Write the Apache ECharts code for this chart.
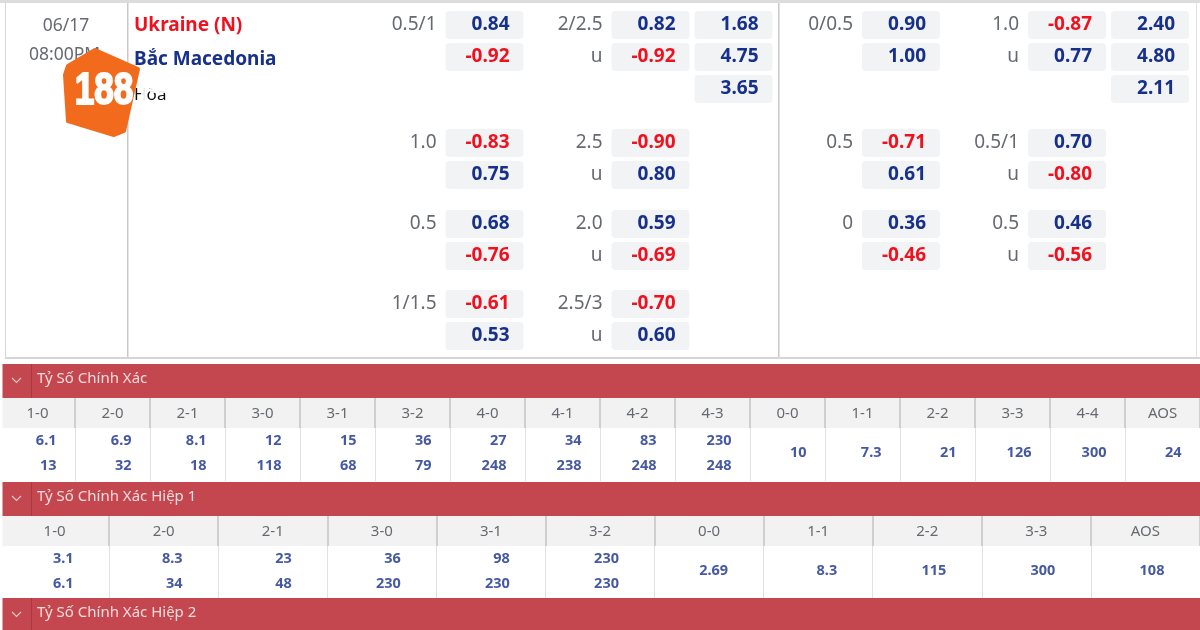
<!DOCTYPE html>
<html>
<head>
<meta charset="utf-8">
<style>html,body{margin:0;padding:0;background:#fff}#main{width:1200px;height:630px}</style>
<script src="https://cdn.jsdelivr.net/npm/echarts@6/dist/echarts.min.js"></script>
</head>
<body>
<div id="main"></div>
<script>
var matchDate = '06/17', matchTime = '08:00PM';
var homeTeam = 'Ukraine (N)', awayTeam = 'Bắc Macedonia', drawLabel = 'Hòa';

// full time odds, one entry per market block
var hdpLinesFT = ['0.5/1', '1.0', '0.5', '1/1.5'];
var hdpHomeFT = [0.84, -0.83, 0.68, -0.61];
var hdpAwayFT = [-0.92, 0.75, -0.76, 0.53];
var ouLinesFT = ['2/2.5', '2.5', '2.0', '2.5/3'];
var ouOverFT = [0.82, -0.90, 0.59, -0.70];
var ouUnderFT = [-0.92, 0.80, -0.69, 0.60];
var x12FT = [1.68, 4.75, 3.65];

// first half odds
var hdpLinesHT = ['0/0.5', '0.5', '0'];
var hdpHomeHT = [0.90, -0.71, 0.36];
var hdpAwayHT = [1.00, 0.61, -0.46];
var ouLinesHT = ['1.0', '0.5/1', '0.5'];
var ouOverHT = [-0.87, 0.70, 0.46];
var ouUnderHT = [0.77, -0.80, -0.56];
var x12HT = [2.40, 4.80, 2.11];

// correct score
var csTitle = 'Tỷ Số Chính Xác';
var csScores = ['1-0', '2-0', '2-1', '3-0', '3-1', '3-2', '4-0', '4-1', '4-2', '4-3', '0-0', '1-1', '2-2', '3-3', '4-4', 'AOS'];
var csHome = [6.1, 6.9, 8.1, 12, 15, 36, 27, 34, 83, 230];
var csAway = [13, 32, 18, 118, 68, 79, 248, 238, 248, 248];
var csLevel = [10, 7.3, 21, 126, 300, 24];

// correct score first half
var cs1Title = 'Tỷ Số Chính Xác Hiệp 1';
var cs1Scores = ['1-0', '2-0', '2-1', '3-0', '3-1', '3-2', '0-0', '1-1', '2-2', '3-3', 'AOS'];
var cs1Home = [3.1, 8.3, 23, 36, 98, 230];
var cs1Away = [6.1, 34, 48, 230, 230, 230];
var cs1Level = [2.69, 8.3, 115, 300, 108];

var cs2Title = 'Tỷ Số Chính Xác Hiệp 2';

var NAVY = '#16308c', RED = '#f0111f', GREY = '#666a70', BAND = '#c4474f';
var FONT = '"Noto Sans", sans-serif';
var oddsSlots = ['hdp', 'gap', 'ou', 'x12'];
var grids = [], xAxes = [], yAxes = [], series = [];

function addGrid(g, x, y) {
  grids.push(g);
  x.gridIndex = y.gridIndex = grids.length - 1;
  xAxes.push(x);
  yAxes.push(y);
  return grids.length - 1;
}

function renderChip(rows) {
  return function (params, api) {
    var row = rows[params.dataIndex];
    var c = api.coord([row[0], row[1]]);
    var s = api.size([1, 1]);
    var w = s[0] - 5, h = s[1] - 4, left = c[0] - w / 2;
    var kids = [
      { type: 'rect', shape: { x: left, y: c[1] - h / 2, width: w, height: h, r: 4 }, style: { fill: '#f2f3f5' } },
      { type: 'text', style: { x: left + w - 14, y: c[1], text: row[3], align: 'right', verticalAlign: 'middle',
        fill: row[2] < 0 ? RED : NAVY, font: 'bold 19px ' + FONT } }
    ];
    if (row[4]) {
      kids.push({ type: 'text', style: { x: left - 9, y: c[1], text: row[4], align: 'right', verticalAlign: 'middle',
        fill: GREY, font: '19px ' + FONT } });
    }
    return { type: 'group', children: kids };
  };
}

// one block of chips: 2 rows (hdp, o/u) plus optional third row for 1x2 prices
function addOddsBlock(left, top, i, hl, hh, ha, ol, oo, ou, x12) {
  var rowNames = x12 ? ['a', 'b', 'c'] : ['a', 'b'];
  var idx = addGrid(
    { left: left, top: top, width: 332, height: rowNames.length * 32, containLabel: false },
    { type: 'category', data: oddsSlots, show: false },
    { type: 'category', data: rowNames, inverse: true, show: false }
  );
  var rows = [
    ['hdp', 'a', hh[i], hh[i].toFixed(2), hl[i]],
    ['hdp', 'b', ha[i], ha[i].toFixed(2), ''],
    ['ou', 'a', oo[i], oo[i].toFixed(2), ol[i]],
    ['ou', 'b', ou[i], ou[i].toFixed(2), 'u']
  ];
  if (x12) {
    x12.forEach(function (v, k) { rows.push(['x12', rowNames[k], v, v.toFixed(2), '']); });
  }
  series.push({
    type: 'custom', xAxisIndex: idx, yAxisIndex: idx, silent: true, clip: false,
    renderItem: renderChip(rows),
    encode: { x: 0, y: 1 },
    data: rows.map(function (r) { return [r[0], r[1]]; })
  });
}

var blockTops = [9, 127, 208, 288];
hdpLinesFT.forEach(function (l, i) {
  addOddsBlock(443, blockTops[i], i, hdpLinesFT, hdpHomeFT, hdpAwayFT, ouLinesFT, ouOverFT, ouUnderFT, i === 0 ? x12FT : null);
});
hdpLinesHT.forEach(function (l, i) {
  addOddsBlock(859.5, blockTops[i], i, hdpLinesHT, hdpHomeHT, hdpAwayHT, ouLinesHT, ouOverHT, ouUnderHT, i === 0 ? x12HT : null);
});

function addScoreTable(top, scores, home, away, level, width) {
  // header strip, the score labels are the category axis
  addGrid(
    { left: 0, top: top, width: width, height: 30, show: true, backgroundColor: '#f2f2f2', borderWidth: 0 },
    { type: 'category', data: scores, position: 'bottom', axisTick: { show: false }, axisLine: { show: false },
      axisLabel: { inside: true, interval: 0, margin: 7, color: GREY, fontSize: 15, fontFamily: FONT },
      splitLine: { show: true, interval: 0, lineStyle: { color: '#cfcfcf', width: 2 } } },
    { type: 'value', min: 0, max: 1, show: false, splitLine: { show: false } }
  );
  var idx = addGrid(
    { left: 0, top: top + 30, width: width, height: 53 },
    { type: 'category', data: scores, axisTick: { show: false }, axisLine: { show: false }, axisLabel: { show: false },
      splitLine: { show: true, interval: 0, lineStyle: { color: '#e2e2e2', width: 1 } } },
    { type: 'value', min: 0, max: 2.1, inverse: true, show: false, splitLine: { show: false } }
  );
  var pts = [];
  home.forEach(function (v, i) { pts.push([scores[i], 0.5, v]); });
  away.forEach(function (v, i) { pts.push([scores[i], 1.5, v]); });
  level.forEach(function (v, i) { pts.push([scores[home.length + i], 1, v]); });
  series.push({
    type: 'scatter', xAxisIndex: idx, yAxisIndex: idx, silent: true, symbolSize: 1,
    itemStyle: { color: 'transparent' },
    encode: { x: 0, y: 1 },
    label: { show: true, position: 'inside', align: 'right', verticalAlign: 'middle', offset: [19, 0],
      color: NAVY, fontWeight: 'bold', fontSize: 14.5, fontFamily: FONT,
      formatter: function (p) { return String(p.value[2]); } },
    data: pts
  });
}
addScoreTable(398, csScores, csHome, csAway, csLevel, 1204);
addScoreTable(516, cs1Scores, cs1Home, cs1Away, cs1Level, 1204);

function banner(top, title) {
  return [
    { type: 'rect', shape: { x: 2.5, y: top, width: 1198, height: 34 }, style: { fill: BAND }, z: 5 },
    { type: 'rect', shape: { x: 31, y: top, width: 1, height: 34 }, style: { fill: '#a93840' }, z: 6 },
    { type: 'polyline', shape: { points: [[12, top + 14], [16.5, top + 18.5], [21, top + 14]] }, style: { stroke: '#f0c8ca', fill: null, lineWidth: 1.2 }, z: 6 },
    { type: 'text', style: { x: 37, y: top + 15, text: title, fill: '#f6dcdd', font: '15px ' + FONT, verticalAlign: 'middle' }, z: 6 }
  ];
}

function vline(x, y1, y2, col, w) {
  return { type: 'rect', shape: { x: x, y: y1, width: w, height: y2 - y1 }, style: { fill: col }, z: 1 };
}

var chrome = [
  { type: 'rect', shape: { x: 0, y: 0, width: 1200, height: 3 }, style: { fill: '#dcdcdc' }, z: 1 },
  vline(5, 3, 358, '#d5d5d5', 1),
  vline(127, 3, 358, '#c9c9c9', 1.5),
  vline(778, 3, 358, '#c9c9c9', 1.5),
  vline(1196, 3, 358, '#e2e2e2', 1),
  { type: 'rect', shape: { x: 5, y: 357, width: 1195, height: 2 }, style: { fill: '#d5d5d5' }, z: 1 },
  { type: 'rect', shape: { x: 0, y: 398, width: 2.5, height: 232 }, style: { fill: '#fff' }, z: 4 },
  { type: 'text', style: { x: 66, y: 26, text: matchDate, align: 'center', verticalAlign: 'middle', fill: GREY, font: '17.5px ' + FONT }, z: 3 },
  { type: 'text', style: { x: 29, y: 55, text: matchTime, verticalAlign: 'middle', fill: GREY, font: '17.5px ' + FONT }, z: 3 },
  { type: 'text', style: { x: 134, y: 26, text: homeTeam, verticalAlign: 'middle', fill: RED, font: 'bold 19px ' + FONT }, z: 3 },
  { type: 'text', style: { x: 134, y: 60, text: awayTeam, verticalAlign: 'middle', fill: NAVY, font: 'bold 19px ' + FONT }, z: 3 },
  { type: 'text', style: { x: 134, y: 95, text: drawLabel, verticalAlign: 'middle', fill: '#111', font: '17px ' + FONT }, z: 3 },
  // white smear the logo watermark leaves on the draw label
  { type: 'rect', shape: { x: 141, y: 84, width: 6, height: 22 }, style: { fill: '#fff', opacity: 0.9 }, z: 4 },
  { type: 'rect', shape: { x: 150, y: 84, width: 30, height: 9 }, style: { fill: '#fff', opacity: 0.9 }, z: 4 },
  { type: 'rect', shape: { x: 134, y: 84, width: 50, height: 4 }, style: { fill: '#fff', opacity: 0.8 }, z: 4 },
  { type: 'polygon', shape: { points: [[95, 50], [68, 66], [65, 75], [68, 121], [114, 135], [124, 131], [138, 69]] },
    style: { fill: '#f26a1b', stroke: '#f26a1b', lineWidth: 4, lineJoin: 'round' }, z: 20 },
  { type: 'text', x: 104, y: 92, scaleX: 0.8, originX: 0, originY: 0,
    style: { x: 0, y: 0, text: '188', align: 'center', verticalAlign: 'middle', fill: '#fff', stroke: '#fff', lineWidth: 2,
      font: 'bold 44px "Liberation Sans", sans-serif' }, z: 21 }
];
chrome = chrome.concat(banner(364, csTitle), banner(482, cs1Title), banner(598, cs2Title));

var chart = echarts.init(document.getElementById('main'), null, { renderer: 'canvas' });
chart.setOption({
  animation: false,
  backgroundColor: '#fff',
  tooltip: { show: false },
  grid: grids,
  xAxis: xAxes,
  yAxis: yAxes,
  graphic: chrome,
  series: series
});
</script>
</body>
</html>
